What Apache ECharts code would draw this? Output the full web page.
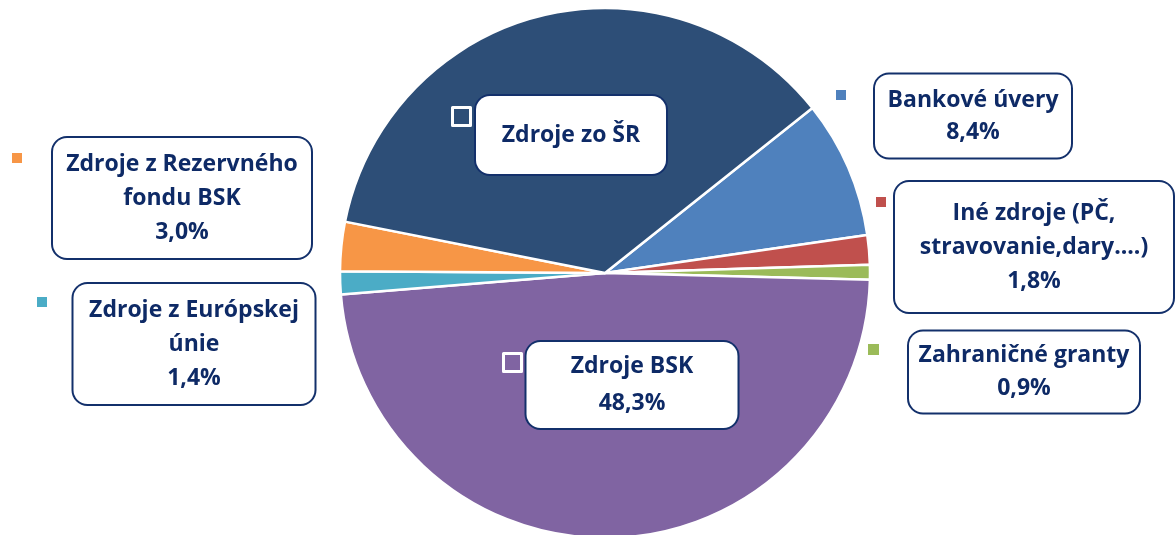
<!DOCTYPE html>
<html>
<head>
<meta charset="utf-8">
<script src="https://cdn.jsdelivr.net/npm/echarts@6/dist/echarts.min.js"></script>
<style>
  html, body { margin: 0; padding: 0; background: #fff; }
  #chart { width: 1176px; height: 535px; }
</style>
</head>
<body>
<div id="chart"></div>
<script>
// Data (clockwise order starting at the Bankové úvery slice)
const names = ["Bankové úvery", "Iné zdroje", "Zahraničné granty", "Zdroje BSK",
  "Zdroje z Európskej únie", "Zdroje z Rezervného fondu BSK", "Zdroje zo ŠR"];
const labelText = ["Bankové úvery", "Iné zdroje (PČ,\nstravovanie,dary....)", "Zahraničné granty",
  "Zdroje BSK", "Zdroje z Európskej\núnie", "Zdroje z Rezervného\nfondu BSK", "Zdroje zo ŠR"];
const values = [8.4, 1.8, 0.9, 48.3, 1.4, 3.0, 36.2];
const showPercent = [true, true, true, true, true, true, false];
const colors = ["#4F81BD", "#C0504D", "#9BBB59", "#8064A2", "#4BACC6", "#F79646", "#2D4E77"];

// label boxes: center x, center y, width, height, line height
const boxes = [
  [973, 116, 200, 85, 32],
  [1034, 247, 282, 132, 34],
  [1024, 372, 234, 83, 33],
  [632, 385, 215, 88, 37],
  [194, 344, 245, 122, 34],
  [182, 198, 262, 122, 34],
  [571, 135, 194, 80, 34]
];
// legend markers: left, top, size, inside pie
const markers = [
  [836, 90, 10, false],
  [876, 197, 10, false],
  [868, 344, 11, false],
  [502, 352, 18, true],
  [37, 297, 10, false],
  [12, 153, 10, false],
  [451, 106, 18, true]
];

const navy = "#0E2A66";

const chart = echarts.init(document.getElementById("chart"));

const pieData = names.map((n, i) => {
  const b = boxes[i];
  const lines = labelText[i].split("\n").length + (showPercent[i] ? 1 : 0);
  const padV = Math.max(0, (b[3] - lines * b[4]) / 2 - 1);
  return {
    name: n,
    value: values[i],
    itemStyle: { color: colors[i] },
    label: {
      formatter: labelText[i] + (showPercent[i] ? "\n" + values[i].toFixed(1).replace(".", ",") + "%" : ""),
      width: b[2] - 4,
      lineHeight: b[4],
      padding: [padV, 0, padV, 0]
    }
  };
});

const legends = markers.map((m, i) => ({
  data: [names[i]],
  left: m[0],
  top: m[1],
  padding: 0,
  itemWidth: m[2],
  itemHeight: m[2],
  icon: "rect",
  selectedMode: false,
  formatter: () => "",
  itemStyle: m[3]
    ? { color: colors[i], borderColor: "#fff", borderWidth: 3 }
    : { color: colors[i], borderWidth: 0 }
}));

chart.setOption({
  animation: false,
  backgroundColor: "#fff",
  legend: legends,
  series: [
    {
      type: "pie",
      center: [605, 273],
      radius: 265,
      startAngle: 38.5,
      clockwise: true,
      avoidLabelOverlap: false,
      emphasis: { disabled: true },
      itemStyle: { borderColor: "#fff", borderWidth: 2.5 },
      labelLine: { show: false },
      label: {
        show: true,
        position: "inside",
        color: navy,
        fontFamily: "Open Sans",
        fontWeight: "bold",
        fontSize: 23,
        align: "center",
        backgroundColor: "#fff",
        borderColor: "#13306B",
        borderWidth: 2,
        borderRadius: 14
      },
      labelLayout: (params) => {
        const b = boxes[params.dataIndex];
        return { x: b[0], y: b[1], align: "center", verticalAlign: "middle" };
      },
      data: pieData
    }
  ]
});
</script>
</body>
</html>
